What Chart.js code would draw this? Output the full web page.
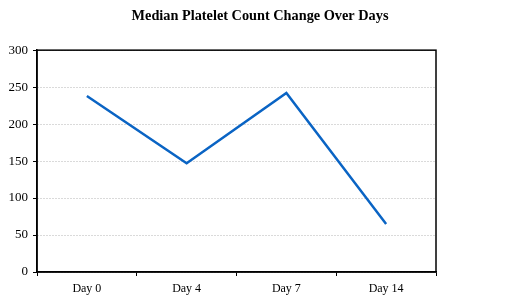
<!DOCTYPE html>
<html>
<head>
<meta charset="utf-8">
<script src="https://cdn.jsdelivr.net/npm/chart.js@4"></script>
<style>
  html, body { margin: 0; padding: 0; background: #fff; }
  #wrap { width: 520px; height: 303px; }
</style>
</head>
<body>
<div id="wrap"><canvas id="plateletChart" width="520" height="303"></canvas></div>
<script>
const days = ['Day 0', 'Day 4', 'Day 7', 'Day 14'];
const medianPlatelets = [238, 147, 242, 65];
const yTicks = [0, 50, 100, 150, 200, 250, 300];

// draws the box round the plot area (top and right sides)
const frameBox = {
  id: 'frameBox',
  afterDatasetsDraw(chart) {
    const a = chart.chartArea;
    const ctx = chart.ctx;
    ctx.save();
    ctx.strokeStyle = '#000';
    ctx.lineWidth = 1.5;
    ctx.strokeRect(a.left, a.top, a.right - a.left, a.bottom - a.top);
    ctx.restore();
  }
};

const ctx = document.getElementById('plateletChart').getContext('2d');
new Chart(ctx, {
  type: 'line',
  data: {
    labels: days,
    datasets: [{
      label: 'Median Platelet Count',
      data: medianPlatelets,
      borderColor: '#0a64c4',
      borderWidth: 2.5,
      pointRadius: 0,
      tension: 0,
      fill: false
    }]
  },
  plugins: [frameBox],
  options: {
    responsive: false,
    animation: false,
    layout: { padding: 0 },
    plugins: {
      legend: { display: false },
      tooltip: { enabled: false },
      title: {
        display: true,
        text: 'Median Platelet Count Change Over Days',
        color: '#000',
        font: { family: 'Liberation Serif', size: 14.3, weight: 'bold' },
        padding: { top: 8, bottom: 25 }
      }
    },
    scales: {
      x: {
        offset: true,
        grid: {
          offset: true,
          drawOnChartArea: false,
          drawTicks: true,
          tickLength: 4,
          tickColor: '#000'
        },
        border: { color: '#000', width: 1.5 },
        ticks: {
          color: '#000',
          padding: 6,
          font: { family: 'Liberation Serif', size: 12 }
        },
        afterFit: s => { s.height = 31; }
      },
      y: {
        min: 0,
        max: 300,
        afterBuildTicks: s => { s.ticks = yTicks.map(v => ({ value: v })); },
        grid: {
          color: '#b4b4b4',
          tickColor: '#000',
          tickLength: 4
        },
        border: { color: '#000', width: 1.5, dash: [1, 2] },
        ticks: {
          color: '#000',
          padding: 5,
          font: { family: 'Liberation Serif', size: 13 }
        },
        afterFit: s => { s.width = 37; }
      },
      // empty right-hand spacer so the title stays centred on the page
      yRight: {
        position: 'right',
        min: 0,
        max: 300,
        grid: { display: false },
        border: { display: false },
        ticks: { display: false },
        afterFit: s => { s.width = 84; }
      }
    }
  }
});
</script>
</body>
</html>
